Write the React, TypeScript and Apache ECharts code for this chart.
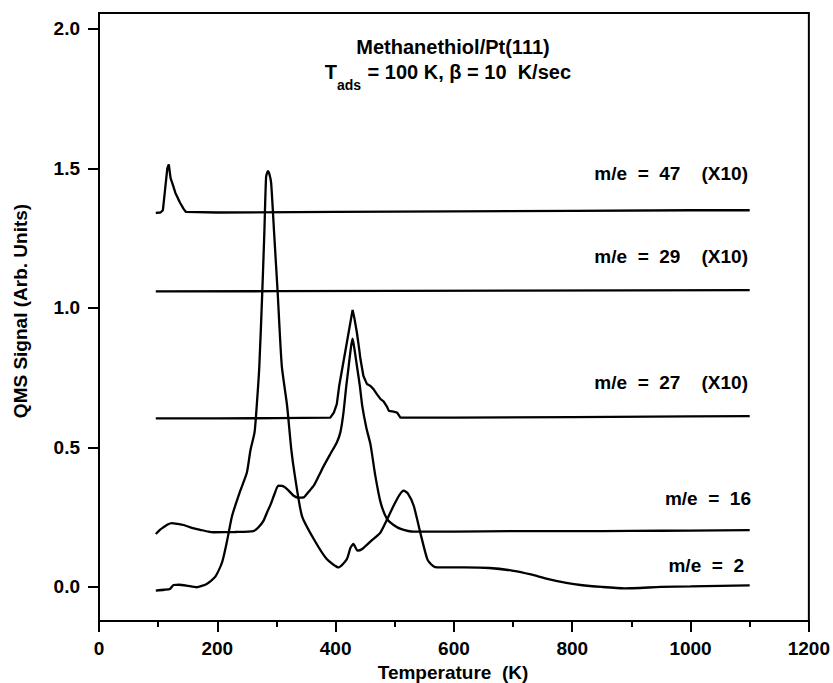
import React, { useEffect, useRef } from 'react';
import * as echarts from 'echarts';

// Tick values
const xTickValues = [0, 200, 400, 600, 800, 1000, 1200];
const yTickValues = [0, 0.5, 1.0, 1.5, 2.0];

// Series data: [temperature (K), QMS signal]
const me47: [number, number][] = [
  [96, 1.341], [104, 1.342], [108, 1.35], [112, 1.43], [115.5, 1.5], [118, 1.514],
  [121, 1.465], [125, 1.44], [129, 1.413], [137, 1.377], [143, 1.355], [147, 1.344],
  [200, 1.342], [400, 1.344], [600, 1.346], [800, 1.348], [1000, 1.35], [1100, 1.35],
];

const me29: [number, number][] = [
  [96, 1.059], [300, 1.06], [500, 1.061], [700, 1.062], [900, 1.063], [1100, 1.064],
];

const me27: [number, number][] = [
  [96, 0.604], [200, 0.604], [300, 0.605], [391, 0.607], [397, 0.625], [402, 0.655],
  [406, 0.72], [411, 0.78], [419, 0.876], [428.7, 0.993], [432, 0.96], [436, 0.911],
  [440, 0.85], [442, 0.816], [447, 0.756], [453, 0.727], [459, 0.72], [464, 0.709],
  [470, 0.69], [476, 0.673], [481, 0.665], [484, 0.655], [487, 0.645], [490, 0.631],
  [498, 0.628], [504, 0.625], [509.5, 0.607], [600, 0.607], [800, 0.609], [1000, 0.611],
  [1100, 0.612],
];

const me16: [number, number][] = [
  [96, 0.19], [103, 0.205], [109, 0.214], [116, 0.224], [123, 0.229], [133, 0.226],
  [143, 0.222], [157, 0.212], [171, 0.205], [185, 0.198], [194, 0.196], [230, 0.197],
  [261, 0.2], [270, 0.215], [278, 0.237], [284, 0.267], [290, 0.295], [297, 0.335],
  [303, 0.363], [310, 0.362], [318, 0.351], [329, 0.327], [338, 0.32], [346, 0.321],
  [354, 0.34], [363, 0.363], [372, 0.4], [380, 0.434], [392, 0.48], [402, 0.518],
  [408, 0.554], [413, 0.62], [418, 0.72], [422, 0.79], [426, 0.86], [428.7, 0.89],
  [432, 0.85], [436, 0.792], [441, 0.72], [445, 0.649], [452, 0.57], [459, 0.51],
  [467, 0.4], [476, 0.303], [487, 0.243], [498, 0.222], [510, 0.208], [532, 0.198],
  [600, 0.198], [700, 0.2], [800, 0.2], [900, 0.201], [1000, 0.202], [1100, 0.204],
];

const me2: [number, number][] = [
  [96, -0.013], [110, -0.01], [120, -0.007], [126, 0.007], [135, 0.008], [148, 0.005],
  [165, -0.001], [182, 0.011], [196, 0.035], [208, 0.088], [216, 0.16], [225, 0.255],
  [238, 0.34], [250, 0.41], [256, 0.49], [263, 0.555], [267, 0.66], [271, 0.79],
  [276, 1.056], [279.5, 1.27], [282.5, 1.47], [285.5, 1.49], [288, 1.48], [291, 1.448],
  [296, 1.27], [302, 1.056], [309, 0.792], [318, 0.649], [325, 0.494], [331, 0.4],
  [343, 0.255], [363, 0.172], [385, 0.1], [405, 0.07], [419, 0.1], [425, 0.14],
  [430, 0.154], [437, 0.13], [445, 0.136], [460, 0.165], [476, 0.196], [498, 0.291],
  [508, 0.33], [515, 0.345], [522, 0.335], [532, 0.291], [543, 0.196], [555, 0.1],
  [565, 0.075], [572, 0.07], [617, 0.07], [660, 0.068], [701, 0.058], [730, 0.045],
  [758, 0.029], [790, 0.015], [814, 0.007], [850, 0.0], [888, -0.005], [950, 0.0],
  [1000, 0.002], [1050, 0.004], [1100, 0.006],
];

const seriesNames = ['m/e = 47', 'm/e = 29', 'm/e = 27', 'm/e = 16', 'm/e = 2'];
const seriesLabels = ['m/e  =  47    (X10)', 'm/e  =  29    (X10)', 'm/e  =  27    (X10)', 'm/e  =  16', 'm/e  =  2'];
const titleLine1 = 'Methanethiol/Pt(111)';
const xAxisTitle = 'Temperature  (K)';
const yAxisTitle = 'QMS Signal (Arb. Units)';

const FONT = '"Liberation Sans", Arial, Helvetica, sans-serif';

export default function App() {
  const ref = useRef<HTMLDivElement>(null);
  useEffect(() => {
    const chart = echarts.init(ref.current!, null, { renderer: 'svg' });
    const allData = [me47, me29, me27, me16, me2];
    const smoothFlags = [false, false, false, 0.2, 0.2];
    const labelY = [173, 256, 382, 498, 565];
    const labelRight = [748, 748, 748, 751, 744];
    const txt = (text: string, x: number, y: number, size: number, align = 'center', extra: any = {}) => ({
      type: 'text',
      x,
      y,
      style: {
        text,
        fill: '#000',
        font: `bold ${size}px ${FONT}`,
        textAlign: align,
        textVerticalAlign: 'middle',
      },
      ...extra,
    });
    chart.setOption({
      animation: false,
      backgroundColor: '#fff',
      grid: {
        left: 99,
        right: 24,
        top: 13,
        bottom: 62,
        show: true,
        borderColor: '#000',
        borderWidth: 2,
        backgroundColor: 'transparent',
      },
      xAxis: {
        type: 'value',
        min: 0,
        max: 1200,
        interval: 200,
        splitLine: { show: false },
        axisLine: { show: true, onZero: false, lineStyle: { color: '#000', width: 2 } },
        axisTick: { show: true, length: 11, lineStyle: { color: '#000', width: 2 }, customValues: xTickValues },
        minorTick: { show: true, splitNumber: 2, length: 6, lineStyle: { color: '#000', width: 2 } },
        axisLabel: {
          color: '#000',
          fontSize: 19,
          fontWeight: 'bold',
          fontFamily: FONT,
          margin: 18,
          customValues: xTickValues,
          formatter: (v: number) => String(v),
        },
      },
      yAxis: {
        type: 'value',
        min: -0.122,
        max: 2.057,
        splitLine: { show: false },
        axisLine: { show: true, onZero: false, lineStyle: { color: '#000', width: 2 } },
        axisTick: { show: true, length: 11, lineStyle: { color: '#000', width: 2 }, customValues: yTickValues },
        axisLabel: {
          color: '#000',
          fontSize: 19,
          fontWeight: 'bold',
          fontFamily: FONT,
          margin: 19,
          customValues: yTickValues,
          formatter: (v: number) => v.toFixed(1),
        },
      },
      series: allData.map((d, i) => ({
        name: seriesNames[i],
        type: 'line',
        data: d,
        showSymbol: false,
        smooth: smoothFlags[i],
        lineStyle: { color: '#000', width: 2.3 },
        z: 3,
      })),
      graphic: [
        txt(titleLine1, 453, 47, 20),
        txt('T', 337, 72, 20, 'right'),
        txt('ads', 337, 85, 14, 'left'),
        txt(' = 100 K, \u03b2 = 10  K/sec', 362, 72, 20, 'left'),
        ...seriesLabels.map((s, i) => txt(s, labelRight[i], labelY[i], 19, 'right')),
        txt(xAxisTitle, 453, 672, 19),
        txt(yAxisTitle, 20, 311, 19, 'center', { rotation: Math.PI / 2 }),
      ],
    });
    return () => chart.dispose();
  }, []);
  return <div ref={ref} style={{ position: 'absolute', left: 0, top: 0, width: 833, height: 683 }} />;
}
